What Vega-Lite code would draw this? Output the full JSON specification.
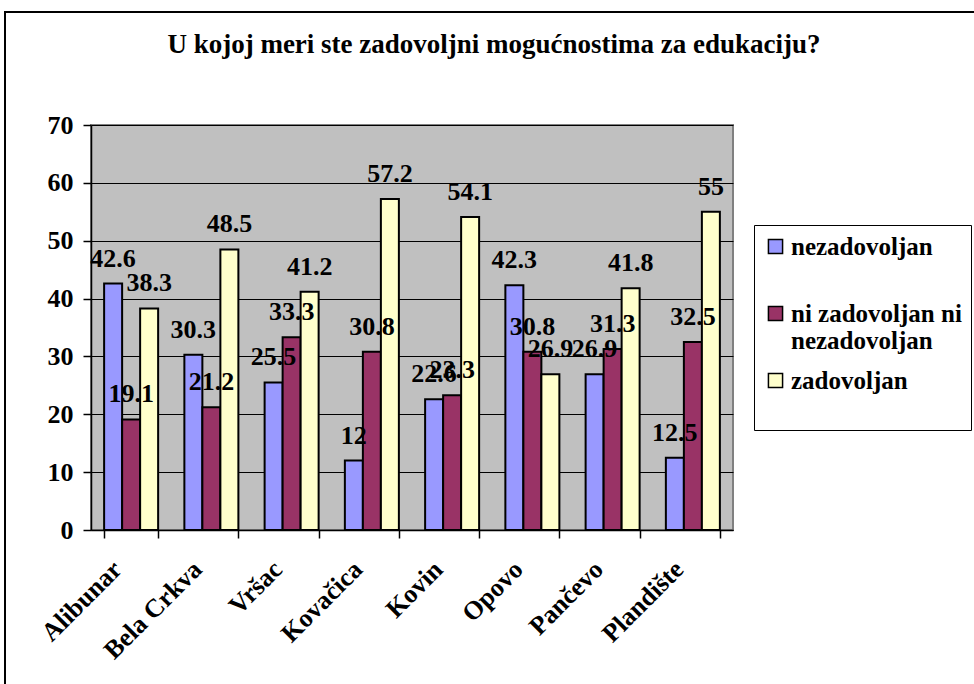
{
  "$schema": "https://vega.github.io/schema/vega-lite/v6.json",
  "width": 642,
  "height": 405,
  "autosize": {"type": "none"},
  "padding": {"left": 91, "top": 125, "right": 241, "bottom": 154},
  "background": "white",
  "title": {
    "text": "U kojoj meri ste zadovoljni mogućnostima za edukaciju?",
    "font": "Liberation Serif, Times New Roman, serif",
    "fontSize": 27,
    "fontWeight": "bold",
    "color": "black",
    "anchor": "middle",
    "frame": "group",
    "baseline": "alphabetic",
    "dx": 82,
    "offset": -69
  },
  "data": {
    "values": [
      {"city": "Alibunar", "s": "nezadovoljan", "v": 42.6},
      {"city": "Alibunar", "s": "ni zadovoljan ni nezadovoljan", "v": 19.1},
      {"city": "Alibunar", "s": "zadovoljan", "v": 38.3},
      {"city": "Bela Crkva", "s": "nezadovoljan", "v": 30.3},
      {"city": "Bela Crkva", "s": "ni zadovoljan ni nezadovoljan", "v": 21.2},
      {"city": "Bela Crkva", "s": "zadovoljan", "v": 48.5},
      {"city": "Vršac", "s": "nezadovoljan", "v": 25.5},
      {"city": "Vršac", "s": "ni zadovoljan ni nezadovoljan", "v": 33.3},
      {"city": "Vršac", "s": "zadovoljan", "v": 41.2},
      {"city": "Kovačica", "s": "nezadovoljan", "v": 12},
      {"city": "Kovačica", "s": "ni zadovoljan ni nezadovoljan", "v": 30.8},
      {"city": "Kovačica", "s": "zadovoljan", "v": 57.2},
      {"city": "Kovin", "s": "nezadovoljan", "v": 22.6},
      {"city": "Kovin", "s": "ni zadovoljan ni nezadovoljan", "v": 23.3},
      {"city": "Kovin", "s": "zadovoljan", "v": 54.1},
      {"city": "Opovo", "s": "nezadovoljan", "v": 42.3},
      {"city": "Opovo", "s": "ni zadovoljan ni nezadovoljan", "v": 30.8},
      {"city": "Opovo", "s": "zadovoljan", "v": 26.9},
      {"city": "Pančevo", "s": "nezadovoljan", "v": 26.9},
      {"city": "Pančevo", "s": "ni zadovoljan ni nezadovoljan", "v": 31.3},
      {"city": "Pančevo", "s": "zadovoljan", "v": 41.8},
      {"city": "Plandište", "s": "nezadovoljan", "v": 12.5},
      {"city": "Plandište", "s": "ni zadovoljan ni nezadovoljan", "v": 32.5},
      {"city": "Plandište", "s": "zadovoljan", "v": 55}
    ]
  },
  "layer": [
    {
      "data": {"values": [{"frame": 1}]},
      "mark": {"type": "rect", "fill": null, "stroke": "black", "strokeWidth": 2},
      "encoding": {
        "x": {"value": -86},
        "x2": {"value": 960},
        "y": {"value": -113},
        "y2": {"value": 600}
      }
    },
    {
      "mark": {"type": "bar", "stroke": "black", "strokeWidth": 2},
      "encoding": {
        "x": {
          "field": "city",
          "type": "nominal",
          "sort": null,
          "scale": {"paddingInner": 0.327, "paddingOuter": 0.1635},
          "axis": {
            "title": null,
            "labelAngle": -45,
            "labelAlign": "right",
            "labelBaseline": "middle",
            "labelPadding": 27,
            "labelOffset": -14,
            "labelFont": "Liberation Serif, Times New Roman, serif",
            "labelFontSize": 26,
            "labelFontWeight": "bold",
            "labelColor": "black",
            "tickBand": "extent",
            "tickColor": "black",
            "tickSize": 8,
            "tickWidth": 1.5,
            "domainColor": "black",
            "domainWidth": 1.5,
            "grid": false
          }
        },
        "xOffset": {
          "field": "s",
          "type": "nominal",
          "sort": ["nezadovoljan", "ni zadovoljan ni nezadovoljan", "zadovoljan"],
          "scale": {"paddingInner": 0, "paddingOuter": 0}
        },
        "y": {
          "field": "v",
          "type": "quantitative",
          "scale": {"domain": [0, 70]},
          "axis": {
            "title": null,
            "values": [0, 10, 20, 30, 40, 50, 60, 70],
            "labelFont": "Liberation Serif, Times New Roman, serif",
            "labelFontSize": 26,
            "labelFontWeight": "bold",
            "labelColor": "black",
            "labelPadding": 10,
            "tickColor": "black",
            "tickSize": 8,
            "tickWidth": 1.5,
            "domainColor": "black",
            "domainWidth": 1.5,
            "grid": true,
            "gridColor": "black",
            "gridWidth": 1
          }
        },
        "color": {
          "field": "s",
          "type": "nominal",
          "sort": ["nezadovoljan", "ni zadovoljan ni nezadovoljan", "zadovoljan"],
          "scale": {"range": ["#9999FF", "#993366", "#FFFFCC"]},
          "legend": {
            "orient": "none",
            "legendX": 663,
            "legendY": 100,
            "title": null,
            "labelFont": "Liberation Serif, Times New Roman, serif",
            "labelFontSize": 25,
            "labelFontWeight": "bold",
            "labelColor": "black",
            "labelLimit": 400,
            "labelOffset": 3,
            "labelExpr": "datum.label == 'ni zadovoljan ni nezadovoljan' ? ['ni zadovoljan ni', 'nezadovoljan'] : [datum.label, ' ']",
            "symbolType": "square",
            "symbolSize": 200,
            "symbolStrokeColor": "black",
            "symbolStrokeWidth": 1.5,
            "strokeColor": "black",
            "fillColor": "white",
            "padding": 9,
            "rowPadding": 14
          }
        }
      }
    },
    {
      "mark": {
        "type": "text",
        "baseline": "alphabetic",
        "dy": -17,
        "font": "Liberation Serif, Times New Roman, serif",
        "fontSize": 26,
        "fontWeight": "bold",
        "color": "black"
      },
      "encoding": {
        "x": {"field": "city", "type": "nominal", "sort": null},
        "xOffset": {
          "field": "s",
          "type": "nominal",
          "sort": ["nezadovoljan", "ni zadovoljan ni nezadovoljan", "zadovoljan"]
        },
        "y": {"field": "v", "type": "quantitative"},
        "text": {"field": "v", "type": "quantitative", "format": ".3~r"}
      }
    }
  ],
  "config": {
    "view": {"fill": "#C0C0C0", "stroke": "#808080", "strokeWidth": 2}
  }
}
